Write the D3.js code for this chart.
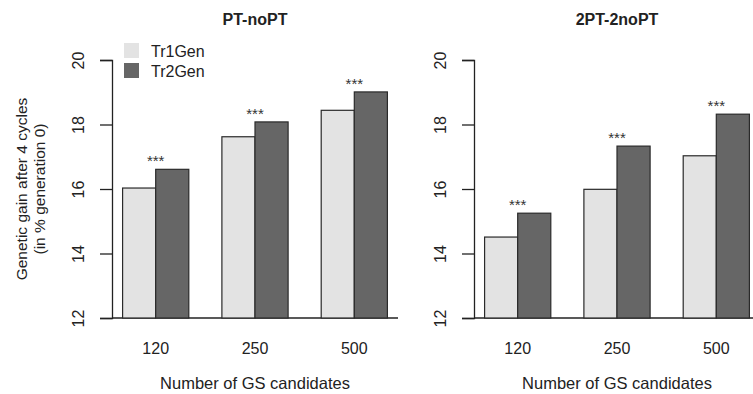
<!DOCTYPE html>
<html>
<head>
<meta charset="utf-8">
<script src="https://cdn.jsdelivr.net/npm/d3@7"></script>
<style>
  body { margin: 0; background: #fff; }
  svg { display: block; font-family: "Liberation Sans", Arial, sans-serif; }
  .axis path, .axis line { stroke: #222; stroke-width: 1.3; }
  .axis text { font-size: 16px; fill: #222; }
</style>
</head>
<body>
<svg id="chart" width="753" height="394"></svg>
<script>
// Data
const candidates = ['120', '250', '500'];
const seriesNames = ['Tr1Gen', 'Tr2Gen'];
const panelTitles = ['PT-noPT', '2PT-2noPT'];
const ptTr1 = [16.03, 17.62, 18.44];
const ptTr2 = [16.61, 18.08, 19.01];
const twoPtTr1 = [14.51, 15.99, 17.03];
const twoPtTr2 = [15.25, 17.33, 18.32];
const yTicks = [12, 14, 16, 18, 20];
const signif = ['***', '***', '***'];

const panels = [
  { title: panelTitles[0], tr1: ptTr1, tr2: ptTr2, left: 112, legend: true },
  { title: panelTitles[1], tr1: twoPtTr1, tr2: twoPtTr2, left: 474, legend: false }
];

const colors = { Tr1Gen: '#e3e3e3', Tr2Gen: '#666666' };
const svg = d3.select('#chart');
const plotTop = 60, plotBottom = 318;
const plotW = 286;

const y = d3.scaleLinear().domain([12, 20]).range([plotBottom, plotTop]);

panels.forEach(p => {
  const g = svg.append('g');

  // bar units like R's barplot: bars at [1,2],[2,3],[4,5]... usr expanded 4%
  const x = d3.scaleLinear().domain([0.68, 9.32]).range([p.left, p.left + plotW]);

  const rows = [];
  candidates.forEach((c, i) => {
    rows.push({ c, i, s: 'Tr1Gen', v: p.tr1[i], x0: 1 + i * 3 });
    rows.push({ c, i, s: 'Tr2Gen', v: p.tr2[i], x0: 2 + i * 3 });
  });

  // baseline
  g.append('line')
    .attr('x1', p.left).attr('x2', p.left + plotW)
    .attr('y1', plotBottom).attr('y2', plotBottom)
    .attr('stroke', '#222').attr('stroke-width', 1.3);

  g.selectAll('.bar')
    .data(rows)
    .enter()
    .append('rect')
    .attr('class', 'bar')
    .attr('x', d => x(d.x0))
    .attr('width', d => x(d.x0 + 1) - x(d.x0))
    .attr('y', d => y(d.v))
    .attr('height', d => plotBottom - y(d.v))
    .attr('fill', d => colors[d.s])
    .attr('stroke', '#2a2a2a')
    .attr('stroke-width', 1.2);

  // significance stars
  g.selectAll('.sig')
    .data(candidates)
    .enter()
    .append('text')
    .attr('x', (d, i) => x(2 + i * 3))
    .attr('y', (d, i) => y(Math.max(p.tr1[i], p.tr2[i])) - 3)
    .attr('text-anchor', 'middle')
    .style('font-size', '15px')
    .style('fill', '#333')
    .text((d, i) => signif[i]);

  // y axis
  const yAxis = d3.axisLeft(y).tickValues(yTicks).tickSize(12).tickPadding(0).tickFormat(d3.format('d'));
  const yG = g.append('g')
    .attr('class', 'axis')
    .attr('transform', `translate(${p.left},0)`)
    .call(yAxis);
  yG.selectAll('.tick text')
    .attr('x', 0)
    .attr('text-anchor', 'middle')
    .attr('transform', 'translate(-34,0) rotate(-90)')
    .attr('dy', '0.35em');

  // x tick labels (no axis line, like R names.arg)
  g.selectAll('.xlab')
    .data(candidates)
    .enter()
    .append('text')
    .attr('x', (d, i) => x(2 + i * 3))
    .attr('y', 354)
    .attr('text-anchor', 'middle')
    .style('font-size', '16px')
    .style('fill', '#222')
    .text(d => d);

  g.append('text')
    .attr('x', x(5))
    .attr('y', 389)
    .attr('text-anchor', 'middle')
    .style('font-size', '16.5px')
    .style('fill', '#222')
    .text('Number of GS candidates');

  g.append('text')
    .attr('x', x(5))
    .attr('y', 25)
    .attr('text-anchor', 'middle')
    .style('font-size', '16px')
    .style('font-weight', 'bold')
    .style('fill', '#222')
    .text(p.title);

  if (p.legend) {
    seriesNames.forEach((s, i) => {
      g.append('rect')
        .attr('x', 124).attr('y', 43 + i * 20)
        .attr('width', 15).attr('height', 15)
        .attr('fill', colors[s]);
      g.append('text')
        .attr('x', 151).attr('y', 51 + i * 20)
        .attr('dy', '0.35em')
        .style('font-size', '16px')
        .style('fill', '#222')
        .text(s);
    });
  }
});

// y axis title, two lines
const yTitle = svg.append('text')
  .attr('transform', `translate(0,${(plotTop + plotBottom) / 2}) rotate(-90)`)
  .attr('text-anchor', 'middle')
  .style('font-size', '15.5px')
  .style('fill', '#222');
yTitle.append('tspan').attr('x', 0).attr('y', 27).text('Genetic gain after 4 cycles');
yTitle.append('tspan').attr('x', 0).attr('y', 45).text('(in % generation 0)');
</script>
</body>
</html>
